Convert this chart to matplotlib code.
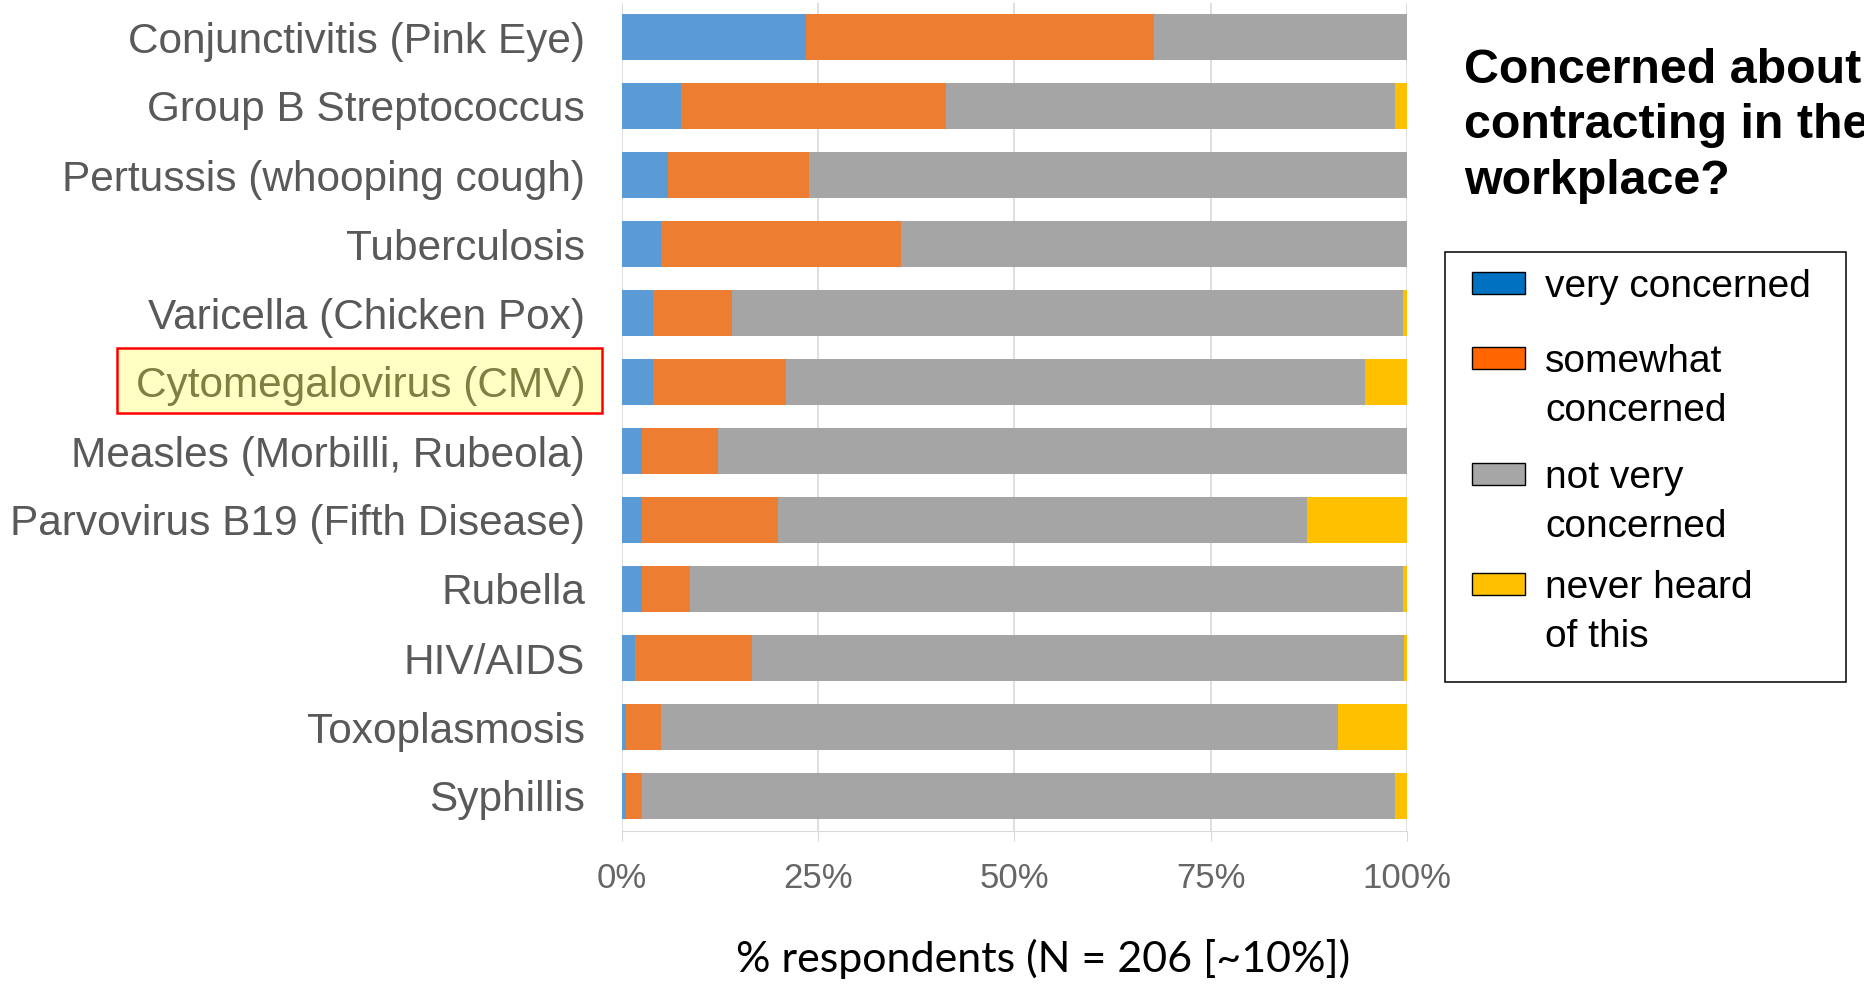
import matplotlib
matplotlib.use("Agg")
import matplotlib.pyplot as plt
from matplotlib.patches import Rectangle
import numpy as np

plt.rcParams["font.family"] = ["Liberation Sans", "DejaVu Sans"]

diseases = [
    "Conjunctivitis (Pink Eye)",
    "Group B Streptococcus",
    "Pertussis (whooping cough)",
    "Tuberculosis",
    "Varicella (Chicken Pox)",
    "Cytomegalovirus (CMV)",
    "Measles (Morbilli, Rubeola)",
    "Parvovirus B19 (Fifth Disease)",
    "Rubella",
    "HIV/AIDS",
    "Toxoplasmosis",
    "Syphillis",
]
# % of respondents per answer
very_concerned = [23.4, 7.5, 5.9, 5.0, 4.0, 4.0, 2.5, 2.5, 2.5, 1.6, 0.5, 0.5]
somewhat_concerned = [44.4, 33.8, 17.9, 30.5, 10.0, 16.9, 9.7, 17.4, 6.2, 15.0, 4.5, 2.0]
not_very_concerned = [32.2, 57.2, 76.2, 64.5, 85.5, 73.8, 87.8, 67.4, 90.8, 83.0, 86.2, 96.0]
never_heard = [0.0, 1.5, 0.0, 0.0, 0.5, 5.3, 0.0, 12.7, 0.5, 0.4, 8.8, 1.5]

series = [very_concerned, somewhat_concerned, not_very_concerned, never_heard]
bar_colors = ["#5B9BD5", "#ED7D31", "#A5A5A5", "#FFC000"]
legend_labels = ["very concerned", "somewhat\nconcerned", "not very\nconcerned", "never heard\nof this"]
legend_colors = ["#0070C0", "#FF6600", "#A6A6A6", "#FFC000"]
x_ticks = [0, 25, 50, 75, 100]
x_ticklabels = ["0%", "25%", "50%", "75%", "100%"]
highlight = "Cytomegalovirus (CMV)"

W, H = 1865, 994
fig = plt.figure(figsize=(W / 100, H / 100), dpi=100)
ax = fig.add_axes([622 / W, 1 - 830.5 / H, (1407 - 622) / W, (830.5 - 2.5) / H])

y = np.arange(len(diseases))
left = np.zeros(len(diseases))
for vals, col in zip(series, bar_colors):
    ax.barh(y, vals, left=left, height=0.667, color=col, zorder=2)
    left = left + np.array(vals)

ax.set_xlim(0, 100)
ax.set_ylim(len(diseases) - 0.5, -0.5)
ax.set_xticks(x_ticks)
ax.set_xticklabels(x_ticklabels, fontsize=25, color="#666666")
ax.set_yticks(y)
ax.set_yticklabels(diseases, fontsize=30.5, color="#595959")
ax.tick_params(axis="y", length=0, pad=26.5)
ax.tick_params(axis="x", length=7, color="#D9D9D9", pad=16)
ax.grid(axis="x", color="#D9D9D9", linewidth=1.2, zorder=0)
ax.set_axisbelow(True)
for s in ["top", "right", "left"]:
    ax.spines[s].set_visible(False)
ax.spines["bottom"].set_color("#D9D9D9")

for lab in ax.get_yticklabels():
    if lab.get_text() == highlight:
        lab.set_color("#7F7F3F")
fig.add_artist(Rectangle((117 / W, 1 - 413 / H), 485 / W, 65 / H, transform=fig.transFigure,
                         facecolor="#FFFFC4", edgecolor="#FF0000", linewidth=1.8, zorder=-1))

fig.text(1043 / W, 1 - 959 / H, "% respondents (N = 206 [~10%])", family=["Lato", "DejaVu Sans"],
         fontsize=31, ha="center", va="center", color="black")

fig.text(1464 / W, 1 - 48 / H, "Concerned about\ncontracting in the\nworkplace?", fontsize=34.8,
         fontweight="bold", va="top", ha="left", linespacing=1.3, color="black")

# legend box drawn by hand
fig.add_artist(Rectangle((1445 / W, 1 - 682 / H), (1846 - 1445) / W, (682 - 252) / H,
                         transform=fig.transFigure, facecolor="white", edgecolor="black", linewidth=1.1))
patch_y = [283, 358, 474, 584]
for py, lab, col in zip(patch_y, legend_labels, legend_colors):
    fig.add_artist(Rectangle((1472 / W, 1 - (py + 11) / H), 53 / W, 22 / H, transform=fig.transFigure,
                             facecolor=col, edgecolor="black", linewidth=1.0))
    fig.text(1545 / W, 1 - (py - 14) / H, lab, fontsize=28, va="top", ha="left", linespacing=1.45)

fig.savefig("out.png", dpi=100)
